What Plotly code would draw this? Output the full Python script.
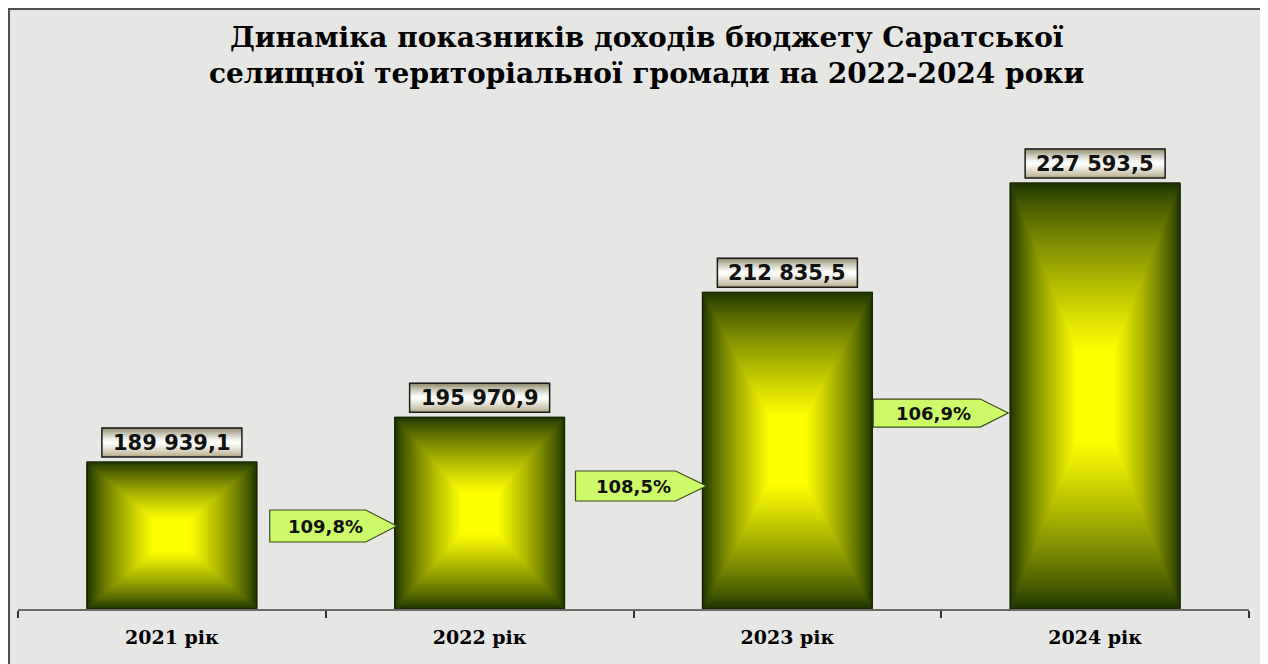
import plotly.graph_objects as go

# ---------------- data ----------------
categories = ["2021 рік", "2022 рік", "2023 рік", "2024 рік"]
revenues = [189939.1, 195970.9, 212835.5, 227593.5]
value_labels = ["189 939,1", "195 970,9", "212 835,5", "227 593,5"]
growth_labels = ["109,8%", "108,5%", "106,9%"]

title_text = ("Динаміка показників доходів бюджету Саратської<br>"
              "селищної територіальної громади на 2022-2024 роки")

# ---------------- layout constants ----------------
Y_MIN, Y_MAX = 170100, 233400
BAR_W = 0.552
ARROW_Y = [181300, 186700, 196550]          # vertical placement of arrows
ARROW_GEOM = [(-56, 40, 71, 16), (-58, 42, 73, 15), (-68, 39, 67, 14)]
ARROW_TEXT_DX = [0, 0, -8]
N_LEVELS = 80
DARK = (28, 52, 0)
YELLOW = (255, 255, 0)

xs = list(range(len(categories)))


def lerp(c1, c2, f):
    return tuple(int(round(a + (b - a) * f)) for a, b in zip(c1, c2))


def rgb(c):
    return "rgb(%d,%d,%d)" % c


fig = go.Figure()

# base bars
fig.add_trace(go.Bar(
    x=xs, y=revenues, width=BAR_W,
    marker=dict(color=rgb(DARK), line=dict(color="#1a2600", width=1)),
    hoverinfo="skip", showlegend=False,
))

# "from centre" rectangular gradient built from nested rectangles
for k in range(N_LEVELS):
    s = 1 - k / N_LEVELS
    t = k / N_LEVELS
    f = min(1.0, t / 0.78) ** 0.8
    col = rgb(lerp(DARK, YELLOW, f))
    px, py = [], []
    for i, v in zip(xs, revenues):
        yc = (Y_MIN + v) / 2
        hh = (v - Y_MIN) / 2 * s
        hw = BAR_W / 2 * s
        px += [i - hw, i + hw, i + hw, i - hw, i - hw, None]
        py += [yc - hh, yc - hh, yc + hh, yc + hh, yc - hh, None]
    fig.add_trace(go.Scatter(x=px, y=py, fill="toself", fillcolor=col,
                             mode="none", hoverinfo="skip", showlegend=False))

# outline of bars
ox, oy = [], []
for i, v in zip(xs, revenues):
    hw = BAR_W / 2
    ox += [i - hw, i + hw, i + hw, i - hw, i - hw, None]
    oy += [Y_MIN, Y_MIN, v, v, Y_MIN, None]
fig.add_trace(go.Scatter(x=ox, y=oy, mode="lines",
                         line=dict(color="#1a2600", width=1.2),
                         hoverinfo="skip", showlegend=False))

shapes = []
annotations = []

# value label boxes (vertical tan-white-tan gradient)
box_top = (143, 138, 106)
box_mid = (255, 255, 255)
box_bot = (168, 158, 116)
BOX_Y0, BOX_Y1, BOX_HW = 5, 34, 70
n_str = 16
for i, v, lab in zip(xs, revenues, value_labels):
    h = (BOX_Y1 - BOX_Y0) / n_str
    for j in range(n_str):
        pos = (j + 0.5) / n_str  # 0 bottom -> 1 top
        if pos < 0.5:
            c = lerp(box_bot, box_mid, (pos / 0.5) ** 0.7)
        else:
            c = lerp(box_mid, box_top, ((pos - 0.5) / 0.5) ** 1.3)
        shapes.append(dict(type="rect", xref="x", yref="y",
                           xsizemode="pixel", ysizemode="pixel",
                           xanchor=i, yanchor=v,
                           x0=-BOX_HW, x1=BOX_HW,
                           y0=BOX_Y0 + j * h, y1=BOX_Y0 + (j + 1) * h + 0.6,
                           fillcolor=rgb(c), line=dict(width=0), layer="above"))
    shapes.append(dict(type="rect", xref="x", yref="y",
                       xsizemode="pixel", ysizemode="pixel",
                       xanchor=i, yanchor=v,
                       x0=-BOX_HW, x1=BOX_HW, y0=BOX_Y0, y1=BOX_Y1,
                       fillcolor="rgba(0,0,0,0)",
                       line=dict(color="#1a1a1a", width=1.5), layer="above"))
    annotations.append(dict(x=i, y=v, xref="x", yref="y", text=lab,
                            showarrow=False, yanchor="middle",
                            yshift=(BOX_Y0 + BOX_Y1) / 2,
                            font=dict(family="DejaVu Sans", size=21,
                                      color="#111111", weight="bold")))

# growth arrows between bars
for k, (lab, ay) in enumerate(zip(growth_labels, ARROW_Y)):
    xl, xr, xt, hh = ARROW_GEOM[k]
    xb = xs[k] + 0.5
    path = (f"M {xl},{-hh} L {xr},{-hh} L {xt},0 L {xr},{hh} L {xl},{hh} Z")
    shapes.append(dict(type="path", xref="x", yref="y",
                       xsizemode="pixel", ysizemode="pixel",
                       xanchor=xb, yanchor=ay, path=path,
                       fillcolor="#cdfa68",
                       line=dict(color="#3c4a1c", width=1.2), layer="above"))
    annotations.append(dict(x=xb, y=ay, xref="x", yref="y", text=lab,
                            showarrow=False, xshift=ARROW_TEXT_DX[k],
                            font=dict(family="DejaVu Sans", size=18,
                                      color="#111111", weight="bold")))

# title
annotations.append(dict(x=0.5102, y=1.1812, xref="paper", yref="paper",
                        text=title_text, showarrow=False,
                        xanchor="center", yanchor="middle",
                        font=dict(family="DejaVu Serif", size=28,
                                  color="#000000", weight="bold")))

# outer frame
shapes.append(dict(type="rect", xref="paper", yref="paper",
                   x0=-0.0073, x1=1.01056, y0=-0.2, y1=1.2793,
                   fillcolor="rgba(0,0,0,0)",
                   line=dict(color="#505050", width=2), layer="below"))

fig.update_layout(
    width=1260, height=656, autosize=False,
    margin=dict(l=10, r=19, t=132, b=55, pad=0),
    paper_bgcolor="#e6e6e4", plot_bgcolor="rgba(0,0,0,0)",
    xaxis=dict(type="linear", range=[-0.5, len(categories) - 0.5],
               tickmode="array", tickvals=xs, ticktext=categories,
               ticks="", showgrid=False, zeroline=False,
               showline=True, linecolor="#6a6a6a", linewidth=2,
               ticklabelstandoff=10,
               tickfont=dict(family="DejaVu Serif", size=19, color="#000000",
                             weight="bold"),
               minor=dict(tickmode="array",
                          tickvals=[x - 0.5 for x in xs] + [xs[-1] + 0.5],
                          ticks="outside", ticklen=7, tickwidth=1.5,
                          tickcolor="#333333", showgrid=False)),
    yaxis=dict(range=[Y_MIN, Y_MAX], visible=False, showgrid=False,
               zeroline=False),
    shapes=shapes, annotations=annotations,
    showlegend=False, bargap=0.45,
)

fig.write_html("out.html")
